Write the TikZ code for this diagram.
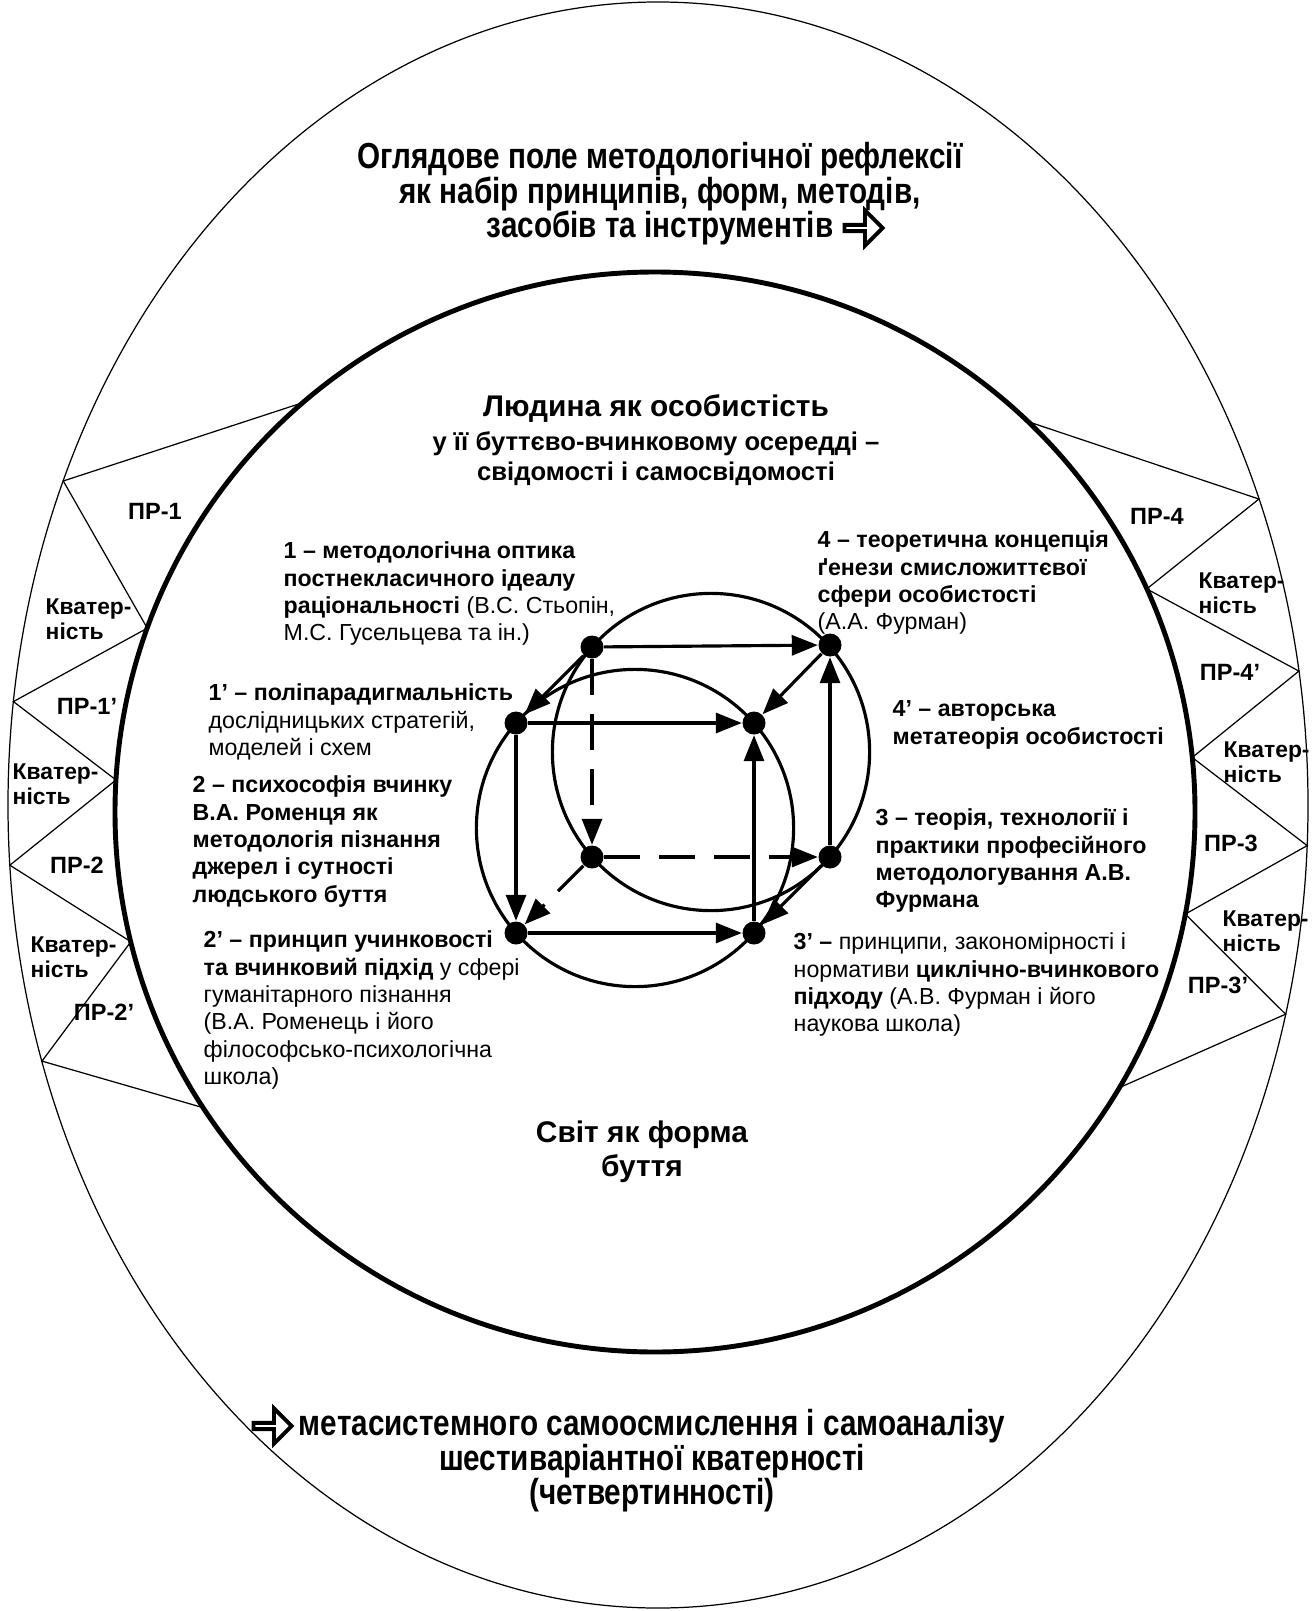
\documentclass[tikz,border=0pt]{standalone}
\usepackage{fontspec}
\setmainfont{Liberation Sans}
\newfontfamily\narrowfont[FakeStretch=0.82]{Liberation Sans}
\usetikzlibrary{arrows.meta,calc,through,shapes.arrows}

\tikzset{
  ring/.style={draw, circle, line width=0.9pt, inner sep=0pt},
  blob/.style={circle, fill, inner sep=0pt, minimum size=0.23cm},
  link/.style={line width=0.9pt, -{Triangle[length=2.6mm,width=2mm]}},
  dlink/.style={link, dash pattern=on 3.6mm off 1.9mm},
  thin line/.style={line width=0.35pt},
  txt/.style={inner sep=0pt, anchor=north west, align=left, font=\fontsize{6.6}{7.82}\selectfont},
  pr/.style={inner sep=0pt, font=\fontsize{6.7}{8}\selectfont\bfseries},
  kv/.style={inner sep=0pt, anchor=west, align=left, font=\fontsize{6.5}{7.05}\selectfont\bfseries},
  title text/.style={inner sep=0pt, align=center, font=\narrowfont\fontsize{10.3}{9.8}\selectfont\bfseries},
  hollow arrow/.style={single arrow, draw, line width=1.1pt, inner sep=0pt, minimum width=0.35cm, minimum height=0.38cm, single arrow head extend=0.09cm}
}

\begin{document}
\begin{tikzpicture}
\useasboundingbox (0,0) rectangle (13.13,-16.11);

% outer field and the thick circle
\coordinate (oc) at (6.58,-8.05);
\coordinate (ic) at (6.55,-8.12);
\draw[thin line] (oc) ellipse (6.50 and 8.03);
\draw[line width=1.4pt] (ic) circle (5.40);

% zigzag between the two
\coordinate (i1) at ($(ic)+(130.7:5.40)$);
\coordinate (i2) at ($(ic)+(160.1:5.40)$);
\coordinate (i3) at ($(ic)+(176.6:5.40)$);
\coordinate (i4) at ($(ic)+(193.9:5.40)$);
\coordinate (i5) at ($(ic)+(213.2:5.40)$);
\coordinate (o1) at ($(oc)+(156.2:6.50 and 8.03)$);
\coordinate (o2) at ($(oc)+(172.6:6.50 and 8.03)$);
\coordinate (o3) at ($(oc)+(184.3:6.50 and 8.03)$);
\coordinate (o4) at ($(oc)+(198.6:6.50 and 8.03)$);
\draw[thin line] (i1) -- (o1) -- (i2) -- (o2) -- (i3) -- (o3) -- (i4) -- (o4) -- (i5);
\coordinate (j1) at ($(ic)+(46.3:5.40)$);
\coordinate (j2) at ($(ic)+(24.4:5.40)$);
\coordinate (j3) at ($(ic)+(5.8:5.40)$);
\coordinate (j4) at ($(ic)+(-10.9:5.40)$);
\coordinate (j5) at ($(ic)+(-30.7:5.40)$);
\coordinate (q1) at ($(oc)+(22.4:6.50 and 8.03)$);
\coordinate (q2) at ($(oc)+(9.6:6.50 and 8.03)$);
\coordinate (q3) at ($(oc)+(-2.9:6.50 and 8.03)$);
\coordinate (q4) at ($(oc)+(-15.1:6.50 and 8.03)$);
\draw[thin line] (j1) -- (q1) -- (j2) -- (q2) -- (j3) -- (q3) -- (j4) -- (q4) -- (j5);

\node[pr] (pr1) at (1.55,-5.11) {ПР-1};
\node[kv] (kv1) at (0.45,-6.19) {Кватер-\\ність};
\node[pr] (pr1p) at (0.87,-7.06) {ПР-1’};
\node[kv] (kv2) at (0.12,-7.84) {Кватер-\\ність};
\node[pr] (pr2) at (0.77,-8.65) {ПР-2};
\node[kv] (kv3) at (0.30,-9.57) {Кватер-\\ність};
\node[pr] (pr2p) at (1.04,-10.12) {ПР-2’};
\node[pr] (pr4) at (11.57,-5.16) {ПР-4};
\node[kv] (kv4) at (11.98,-5.93) {Кватер-\\ність};
\node[pr] (pr4p) at (12.30,-6.72) {ПР-4’};
\node[kv] (kv5) at (12.23,-7.62) {Кватер-\\ність};
\node[pr] (pr3) at (12.31,-8.43) {ПР-3};
\node[kv] (kv6) at (12.22,-9.31) {Кватер-\\ність};
\node[pr] (pr3p) at (12.18,-9.85) {ПР-3’};

% headings
\node[title text] (field) at (6.60,-1.94) {Оглядове поле методологічної рефлексії\\як набір принципів, форм, методів,\\засобів та інструментів};
\node[hollow arrow] (fieldarrow) at (8.62,-2.28) {};
\node[title text] (meta) at (6.52,-14.61) {метасистемного самоосмислення і самоаналізу\\шестиваріантної кватерності\\(четвертинності)};
\node[hollow arrow] (metaarrow) at (2.71,-14.26) {};
\node[inner sep=0pt, font=\fontsize{8.5}{9}\selectfont\bfseries] (person) at (6.56,-4.09) {Людина як особистість};
\node[inner sep=0pt, align=center, font=\fontsize{7.3}{8.5}\selectfont\bfseries] (core) at (6.56,-4.59) {у її буттєво-вчинковому осередді –\\свідомості і самосвідомості};
\node[inner sep=0pt, align=center, font=\fontsize{8.5}{9.7}\selectfont\bfseries] (world) at (6.42,-11.52) {Світ як форма\\буття};

% cube of the quaternity
\node[blob] (p1) at (5.92,-6.47) {};
\node[blob] (p4) at (8.30,-6.45) {};
\node[blob] (p1p) at (5.16,-7.23) {};
\node[blob] (p4p) at (7.54,-7.23) {};
\node[blob] (p2) at (5.92,-8.57) {};
\node[blob] (p3) at (8.30,-8.57) {};
\node[blob] (p2p) at (5.16,-9.33) {};
\node[blob] (p3p) at (7.54,-9.33) {};
\node[ring, circle through=(p1)] (back) at ($(p1)!0.5!(p3)$) {};
\node[ring, circle through=(p1p)] (front) at ($(p1p)!0.5!(p3p)$) {};
\draw[link] (p1) -- (p4);
\draw[link] (p1) -- (p1p);
\draw[link] (p1p) -- (p4p);
\draw[link] (p1p) -- (p2p);
\draw[link] (p2p) -- (p3p);
\draw[link] (p3p) -- (p4p);
\draw[link] (p3) -- (p4);
\draw[link] (p4) -- (p4p);
\draw[link] (p3) -- (p3p);
\draw[dlink] (p1) -- (p2);
\draw[dlink] (p2) -- (p3);
\draw[dlink] (p2) -- (p2p);

% texts at the vertices
\node[txt] (t1) at (2.83,-5.41) {\textbf{1 – методологічна оптика}\\\textbf{постнекласичного ідеалу}\\\textbf{раціональності} (В.С. Стьопін,\\М.С. Гусельцева та ін.)};
\node[txt] (t1p) at (2.08,-6.83) {\textbf{1’ – поліпарадигмальність}\\дослідницьких стратегій,\\моделей і схем};
\node[txt] (t2) at (1.92,-7.75) {\textbf{2 – психософія вчинку}\\\textbf{В.А. Роменця як}\\\textbf{методологія пізнання}\\\textbf{джерел і сутності}\\\textbf{людського буття}};
\node[txt] (t2p) at (2.03,-9.30) {\textbf{2’ – принцип учинковості}\\\textbf{та вчинковий підхід} у сфері\\гуманітарного пізнання\\(В.А. Роменець і його\\філософсько-психологічна\\школа)};
\node[txt] (t4) at (8.17,-5.30) {\textbf{4 – теоретична концепція}\\\textbf{ґенези смисложиттєвої}\\\textbf{сфери особистості}\\(А.А. Фурман)};
\node[txt] (t4p) at (8.92,-7.00) {\textbf{4’ – авторська}\\\textbf{метатеорія особистості}};
\node[txt] (t3) at (8.75,-8.08) {\textbf{3 – теорія, технології і}\\\textbf{практики професійного}\\\textbf{методологування А.В.}\\\textbf{Фурмана}};
\node[txt] (t3p) at (7.93,-9.32) {\textbf{3’ –} принципи, закономірності і\\нормативи \textbf{циклічно-вчинкового}\\\textbf{підходу} (А.В. Фурман і його\\наукова школа)};
\end{tikzpicture}
\end{document}
